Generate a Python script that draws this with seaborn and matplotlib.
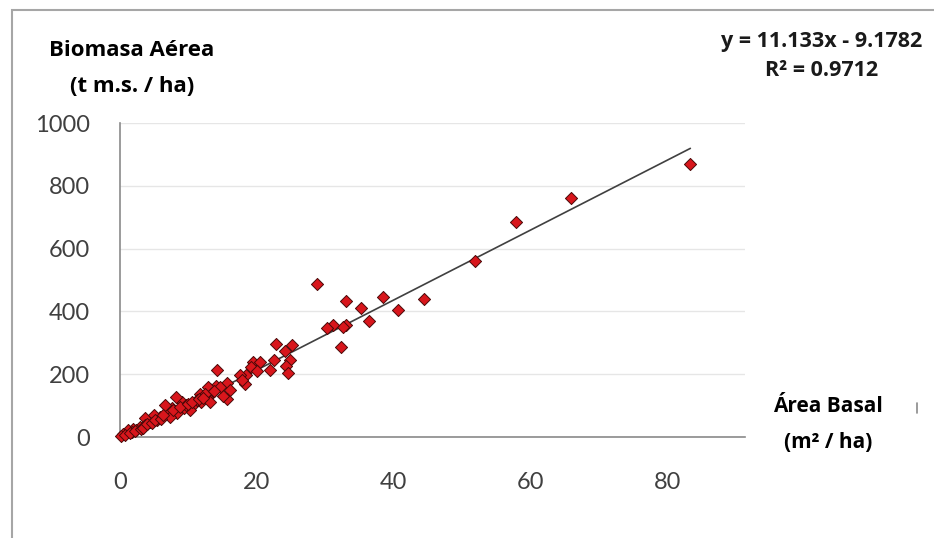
import numpy as np
import pandas as pd
import matplotlib
matplotlib.use('Agg')
import matplotlib.pyplot as plt
import seaborn as sns
from matplotlib.patches import Rectangle
from matplotlib.lines import Line2D

# Basal area (m2/ha) vs aboveground biomass (t m.s./ha)
area_basal = [
    83.4, 66.0, 57.9, 51.9, 44.5, 40.6, 38.4, 36.4, 35.2, 33.1,
    33.1, 32.6, 32.3, 31.1, 30.2, 28.8,
    25.1, 24.1, 24.8, 24.3, 24.5, 22.8, 22.5, 21.9, 19.5, 20.4,
    19.1, 20.0, 18.4, 17.5, 18.3, 17.9, 14.2, 15.7, 16.1, 15.6,
    15.1, 14.1, 14.6, 13.2, 12.9, 13.4, 12.7, 11.9, 11.7, 12.4,
    13.2, 10.7, 10.2, 9.0, 8.2, 7.6, 7.1, 8.3, 7.3, 5.8,
    5.4, 4.4, 3.6, 3.7, 2.9, 1.9, 1.2, 0.5, 0.1, 2.4,
    1.7, 4.9, 6.6, 9.3, 9.7, 11.2, 0.8, 1.5, 2.2, 3.0,
    3.3, 4.0, 4.7, 5.1, 6.0, 6.3, 7.8, 8.8, 10.0, 10.5,
    11.5, 12.2, 13.8,
]
biomasa = [
    869, 760, 686, 561, 439, 403, 447, 370, 410, 434,
    356, 349, 287, 356, 346, 486,
    294, 273, 245, 227, 204, 296, 244, 212, 239, 240,
    222, 210, 197, 199, 169, 181, 213, 172, 150, 120,
    130, 162, 159, 152, 159, 140, 128, 112, 136, 138,
    112, 101, 85, 112, 128, 91, 80, 75, 64, 64,
    53, 48, 59, 37, 32, 27, 21, 11, 3, 21,
    16, 69, 101, 91, 101, 117, 8, 12, 18, 25,
    30, 40, 45, 55, 58, 70, 85, 95, 105, 110,
    120, 125, 145,
]

# trend line shown on the chart
slope = 11.133
intercept = -9.1782
r2 = 0.9712

x_ticks = [0, 20, 40, 60, 80]
y_ticks = [0, 200, 400, 600, 800, 1000]

df = pd.DataFrame({'area_basal': area_basal, 'biomasa': biomasa})

sns.set_style('white')
plt.rcParams['font.family'] = ['Lato', 'DejaVu Sans']
title_font = ['Open Sans', 'DejaVu Sans']

fig = plt.figure(figsize=(9.34, 5.38), dpi=100)
ax = fig.add_axes([0.1285, 0.1877, 0.6692, 0.5836])

# trend line over the data range
x_line = np.array([df['area_basal'].min(), df['area_basal'].max()])
ax.plot(x_line, slope * x_line + intercept, color='#404040', lw=1.2, zorder=2)

sns.scatterplot(data=df, x='area_basal', y='biomasa', ax=ax, marker='D',
                s=38, color='#d8161c', edgecolor='#4a0808', linewidth=0.7,
                zorder=3)
for coll in ax.collections:
    coll.set_clip_on(False)

ax.set_xlim(0, 91.4)
ax.set_ylim(0, 1000)
ax.set_xticks(x_ticks)
ax.set_yticks(y_ticks)
ax.set_xlabel('')
ax.set_ylabel('')

ax.yaxis.grid(True, color='#e6e6e6', lw=1)
ax.xaxis.grid(False)
ax.set_axisbelow(True)

for side in ['top', 'right']:
    ax.spines[side].set_visible(False)
for side in ['left', 'bottom']:
    ax.spines[side].set_color('#8a8a8a')
    ax.spines[side].set_linewidth(1.2)

ax.tick_params(axis='both', direction='out', length=7.5, width=1.2,
               color='#8a8a8a', labelcolor='#404040', labelsize=17)
ax.tick_params(axis='y', pad=14)
ax.tick_params(axis='x', pad=18)

# axis titles placed like the original
fig.text(132 / 934, 1 - 50 / 538, 'Biomasa Aérea', ha='center', va='center',
         fontsize=16, fontweight='bold', color='black', family=title_font)
fig.text(132 / 934, 1 - 87 / 538, '(t m.s. / ha)', ha='center', va='center',
         fontsize=16, fontweight='bold', color='black', family=title_font)
fig.text(828 / 934, 1 - 406 / 538, 'Área Basal', ha='center', va='center',
         fontsize=15, fontweight='bold', color='black', family=title_font)
fig.text(828 / 934, 1 - 442 / 538, '(m² / ha)', ha='center',
         va='center', fontsize=15, fontweight='bold', color='black',
         family=title_font)

# equation and R2
fig.text(822 / 934, 1 - 41 / 538, f'y = {slope}x - {abs(intercept)}',
         ha='center', va='center', fontsize=15.5, fontweight='bold',
         color='#1a1a1a', family=title_font)
fig.text(822 / 934, 1 - 70 / 538, f'R² = {r2}', ha='center',
         va='center', fontsize=15.5, fontweight='bold', color='#1a1a1a',
         family=title_font)

# chart frame and small mark right of x title
fig.add_artist(Rectangle((12 / 934, -0.05), 1.0, 1 - 10 / 538 + 0.05,
                         transform=fig.transFigure, fill=False,
                         edgecolor='#a6a6a6', lw=1.5))
fig.add_artist(Line2D([917 / 934, 917 / 934], [1 - 403 / 538, 1 - 413 / 538],
                      transform=fig.transFigure, color='#8a8a8a', lw=1.2))

fig.savefig('out.png', dpi=100)
